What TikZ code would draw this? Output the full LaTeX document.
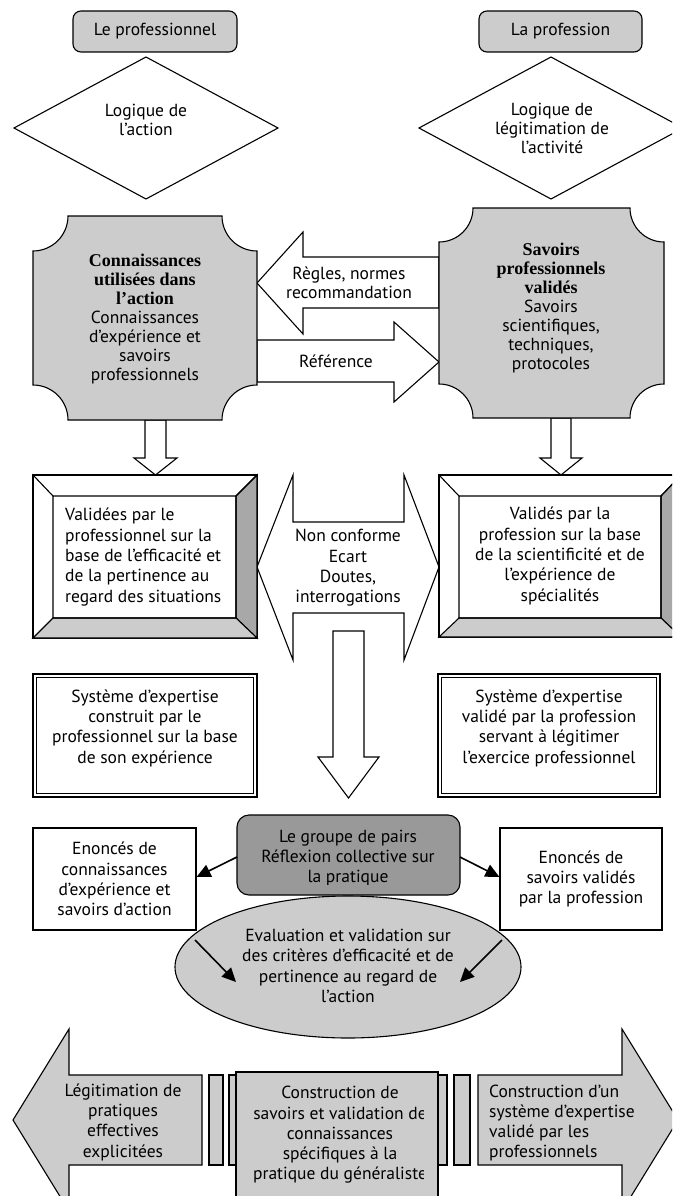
\documentclass[tikz,border=0pt]{standalone}
\usepackage{fontspec}
\setmainfont{PT Sans}
\newfontfamily\timesfam{Liberation Serif}
\usetikzlibrary{arrows.meta,shapes.geometric}
\definecolor{lg}{gray}{0.80}
\definecolor{dg}{gray}{0.60}
\definecolor{mg}{gray}{0.66}
\newcommand\hdfont{\timesfam\bfseries\fontsize{18}{19}\selectfont}
\tikzset{
  ln/.style={line width=1.1pt, line join=miter},
  txt/.style={font=\fontsize{17.5}{19}\selectfont, align=center, inner sep=0pt},
  txtw/.style={font=\fontsize{17.5}{20.3}\selectfont, align=center, inner sep=0pt},
  topbox/.style={draw, ln, fill=lg, rounded corners=8pt, minimum width=164pt, minimum height=41pt, txt},
  blk/.style={ln, fill=white},
  gblk/.style={ln, fill=lg},
  darr/.style={-{Triangle[length=14pt,width=13pt]}, line width=1.6pt},
}
\begin{document}
\begin{tikzpicture}[x=1pt,y=-1pt]
\useasboundingbox (0,0) rectangle (672,1196);
\clip (0,0) rectangle (672,1196);
% top labels
\node[topbox] (prof) at (155,31.5) {Le professionnel};
\node[topbox, minimum width=163pt] (pro2) at (560.5,31.5) {La profession};
% diamonds
\draw[ln] (146,57) -- (278,128) -- (146,199) -- (14,128) -- cycle;
\node[txt] (lg1) at (146,120) {Logique de\\l’action};
\draw[ln] (551,57) -- (683,128) -- (551,199) -- (419,128) -- cycle;
\node[txt] (lg2) at (552,128) {Logique de\\légitimation de\\l’activité};
% horizontal block arrows
\filldraw[blk] (257,283) -- (303,232) -- (303,257) -- (439,257) -- (439,308) -- (303,308) -- (303,334) -- cycle;
\node[txt] (regles) at (349,283) {Règles, normes\\recommandation};
\filldraw[blk] (257,340) -- (394,340) -- (394,322) -- (439,362) -- (394,402) -- (394,382) -- (257,382) -- cycle;
\node[txt] (ref) at (336,361) {Référence};
% small down arrows
\filldraw[blk] (145,420) -- (145,458) -- (134,458) -- (155.5,475) -- (177,458) -- (166,458) -- (166,420) -- cycle;
\filldraw[blk] (551,418) -- (551,458) -- (540,458) -- (561,475) -- (582,458) -- (571,458) -- (571,418) -- cycle;
% plaques
\filldraw[gblk] (68,216) -- (222,216) arc[start angle=180, end angle=90, radius=35] -- (257,385) arc[start angle=270, end angle=180, radius=35] -- (68,420) arc[start angle=0, end angle=-90, radius=35] -- (33,251) arc[start angle=90, end angle=0, radius=35] -- cycle;
\node[txt] (conn) at (145,319) {{\hdfont Connaissances}\\{\hdfont utilisées dans}\\{\hdfont l’action}\\Connaissances\\d’expérience et\\savoirs\\professionnels};
\filldraw[gblk] (473,208) -- (630,208) arc[start angle=180, end angle=90, radius=34] -- (664,384) arc[start angle=270, end angle=180, radius=34] -- (473,418) arc[start angle=0, end angle=-90, radius=34] -- (439,242) arc[start angle=90, end angle=0, radius=34] -- cycle;
\node[txt] (sav) at (551,308) {{\hdfont Savoirs}\\{\hdfont professionnels}\\{\hdfont validés}\\Savoirs\\scientifiques,\\techniques,\\protocoles};
% double arrow
\filldraw[blk] (257,567) -- (293,475) -- (293,522) -- (404,522) -- (404,475) -- (439,567) -- (404,660) -- (404,613) -- (293,613) -- (293,660) -- cycle;
\node[txtw] (nonc) at (348,568) {Non conforme\\Ecart\\Doutes,\\interrogations};
% bevel boxes
\filldraw[blk] (33,475) rectangle (257,638);
\filldraw[ln, fill=mg] (257,475) -- (257,638) -- (236,618) -- (236,496) -- cycle;
\filldraw[ln, fill=lg] (33,638) -- (257,638) -- (236,618) -- (53,618) -- cycle;
\draw[ln] (33,475) -- (53,496) (257,475) -- (236,496) (53,496) rectangle (236,618);
\node[txtw, align=left, anchor=west] (val1) at (65,557) {Validées par le\\professionnel sur la\\base de l’efficacité et\\de la pertinence au\\regard des situations};
\filldraw[blk] (439,475) rectangle (681,637);
\filldraw[ln, fill=mg] (681,475) -- (681,637) -- (661,618) -- (661,496) -- cycle;
\filldraw[ln, fill=lg] (439,637) -- (681,637) -- (661,618) -- (459,618) -- cycle;
\draw[ln] (439,475) -- (459,496) (681,475) -- (661,496) (459,496) rectangle (661,618);
\node[txtw] (val2) at (560,556) {Validés par la\\profession sur la base\\de la scientificité et de\\l’expérience de\\spécialités};
% big down arrow
\filldraw[blk] (333,631) -- (364,631) -- (364,757) -- (379,757) -- (348.5,798) -- (318,757) -- (333,757) -- cycle;
% systeme boxes
\draw[line width=1.6pt] (33,674) rectangle (257,797);
\draw[line width=0.7pt] (36.5,677.5) rectangle (253.5,793.5);
\begin{scope}
\clip (36.5,677.5) rectangle (238,793.5);
\node[txtw] (sys1) at (145,728) {Système d’expertise\\construit par le\\professionnel sur la base\\de son expérience};
\end{scope}
\draw[line width=1.6pt] (438,674) rectangle (660,797);
\draw[line width=0.7pt] (441.5,677.5) rectangle (656.5,793.5);
\node[txtw] (sys2) at (549,728) {Système d’expertise\\validé par la profession\\servant à légitimer\\l’exercice professionnel};
% peer group section
\node[draw, ln, fill=lg, ellipse, minimum width=346pt, minimum height=142pt, inner sep=0pt] (ell) at (348,967) {};
\node[txtw] (evt) at (348,966) {Evaluation et validation sur\\des critères d’efficacité et de\\pertinence au regard de\\l’action};
\node[draw, ln, fill=dg, rounded corners=12pt, minimum width=223pt, minimum height=80pt] (grp) at (348.5,855) {};
\begin{scope}
\clip (240,818) rectangle (457,884);
\node[txtw] (grpt) at (348,858) {Le groupe de pairs\\Réflexion collective sur\\la pratique};
\end{scope}
\node[draw, ln, fill=white, minimum width=163pt, minimum height=102pt, txtw] (en1) at (114.5,879) {Enoncés de\\connaissances\\d’expérience et\\savoirs d’action};
\node[draw, ln, fill=white, minimum width=162pt, minimum height=102pt, txtw] (en2) at (581,879) {Enoncés de\\savoirs validés\\par la profession};
\coordinate (g1) at (237,857);
\coordinate (g2) at (460,857);
\draw[darr] (g1) -- (en1.east |- 0,877);
\draw[darr] (g2) -- (en2.west |- 0,877);
\coordinate (e1) at (195,940);
\coordinate (e2) at (236,982);
\coordinate (e3) at (502,940);
\coordinate (e4) at (460,982);
\draw[darr] (e1) -- (e2);
\draw[darr] (e3) -- (e4);
% bottom arrows
\filldraw[gblk] (202,1075) -- (69,1075) -- (69,1029) -- (13,1120) -- (69,1211) -- (69,1165) -- (202,1165) -- cycle;
\node[txtw] (legit) at (123,1122) {Légitimation de\\pratiques\\effectives\\explicitées};
\filldraw[gblk] (209,1075) rectangle (223,1165);
\filldraw[gblk] (229,1075) rectangle (242,1165);
\filldraw[gblk] (430,1075) rectangle (447,1165);
\filldraw[gblk] (454,1075) rectangle (470,1165);
\filldraw[gblk] (478,1075) -- (622,1075) -- (622,1029) -- (678,1120) -- (622,1211) -- (622,1165) -- (478,1165) -- cycle;
\node[txtw, align=left, anchor=west] (cons2) at (489,1123) {Construction d’un\\système d’expertise\\validé par les\\professionnels};
\filldraw[gblk] (236,1072) rectangle (438,1215);
\begin{scope}
\clip (236,1072) rectangle (423,1196);
\node[txtw] (cons1) at (340,1135) {Construction de\\savoirs et validation de\\connaissances\\spécifiques à la\\pratique du généraliste};
\end{scope}
\end{tikzpicture}
\end{document}
